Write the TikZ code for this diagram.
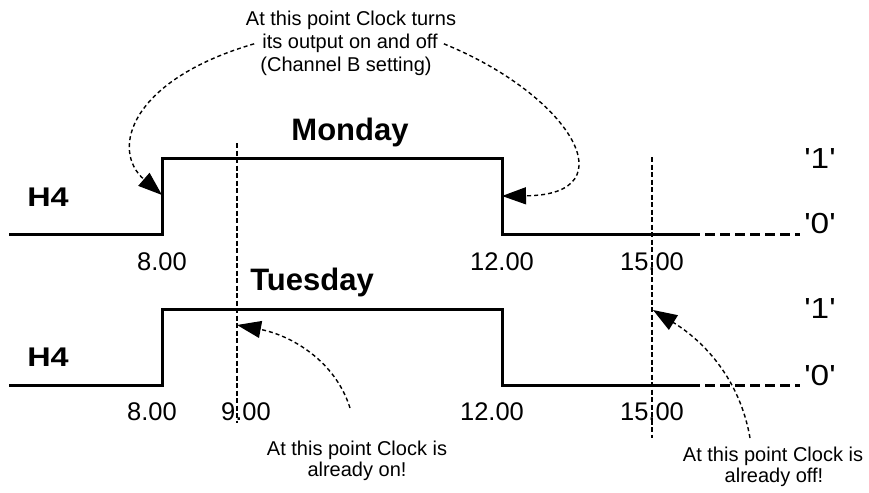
\documentclass[tikz,border=0pt]{standalone}
\usepackage{fontspec}
\usepackage{graphicx}
\setmainfont{Liberation Sans}
\usetikzlibrary{arrows.meta}
\newcommand\qq[1]{\textquotesingle{}#1\textquotesingle{}}
\tikzset{
  wave/.style={line width=3pt, line join=miter, line cap=butt},
  ext/.style={line width=3pt, dash pattern=on 10pt off 5pt},
  vmark/.style={line width=1.4pt, dash pattern=on 5pt off 2.5pt},
  callout/.style={line width=1.4pt, dash pattern=on 4pt off 3pt,
    -{Triangle[length=24pt,width=17pt]}},
  lbl/.style={inner sep=0pt, anchor=base},
  annot/.style={lbl, font=\fontsize{20}{23}\selectfont},
  timel/.style={lbl, font=\fontsize{25.5}{30}\selectfont},
  dayl/.style={lbl, font=\bfseries\fontsize{31}{36}\selectfont},
  hl/.style={lbl, font=\bfseries\fontsize{27}{32}\selectfont},
  levl/.style={lbl, font=\fontsize{29}{34}\selectfont},
}
\begin{document}
\begin{tikzpicture}[x=1pt,y=-1pt]
\useasboundingbox (0,0) rectangle (869,492);

% vertical markers
\coordinate (v9a) at (237,143);
\coordinate (v9b) at (237,423);
\coordinate (v15a) at (652,157);
\coordinate (v15b) at (652,438);
\draw[vmark] (v9a) -- (v9b);
\draw[vmark] (v15a) -- (v15b);

% Monday waveform
\draw[wave] (9,234) -| (162,158) -| (502,234) -- (690,234);
\draw[ext] (690,234) -- (800,234);
% Tuesday waveform
\draw[wave] (9,385) -| (162,309) -| (502,385) -- (690,385);
\draw[ext] (690,385) -- (800,385);

% labels
\node[hl] (h4a) at (48,206) {\scalebox{1.2}[1]{H4}};
\node[hl] (h4b) at (48,366) {\scalebox{1.2}[1]{H4}};
\node[dayl] (mon) at (350,140) {Monday};
\node[dayl] (tue) at (312,290) {Tuesday};

\node[levl] (m1) at (820,168) {\scalebox{1.15}[1]{\qq{1}}};
\node[levl] (m0) at (820,233) {\scalebox{1.15}[1]{\qq{0}}};
\node[levl] (u1) at (820,318) {\scalebox{1.15}[1]{\qq{1}}};
\node[levl] (u0) at (820,385) {\scalebox{1.15}[1]{\qq{0}}};

\node[timel] (ma) at (162,270) {8.00};
\node[timel] (mb) at (502,270) {12.00};
\node[timel] (mc) at (652,270) {15.00};
\node[timel] (ua) at (152,420) {8.00};
\node[timel] (ub) at (246,420) {9.00};
\node[timel] (uc) at (492,420) {12.00};
\node[timel] (ud) at (652,420) {15.00};

% annotations
\node[annot] (t1) at (351,26) {At this point Clock turns};
\node[annot] (t2) at (350,49) {its output on and off};
\node[annot] (t3) at (346,72) {(Channel B setting)};
\node[annot] (on1) at (357,455) {At this point Clock is};
\node[annot] (on2) at (357,476) {already on!};
\node[annot] (off1) at (773,461) {At this point Clock is};
\node[annot] (off2) at (774,482) {already off!};

% arrow targets and free starts
\coordinate (m8) at (162,195);
\coordinate (m12) at (502,196);
\coordinate (t9) at (237,325);
\coordinate (t15) at (653,310);
\coordinate (s3) at (350,408);
\coordinate (s4) at (750,438);

\draw[callout] ([xshift=-8pt]t2.west) .. controls (130,80) and (110,150) .. (m8);
\draw[callout] ([xshift=6pt]t2.east) .. controls (570,95) and (630,195) .. (m12);
\draw[callout] (s3) .. controls (335,360) and (290,335) .. (t9);
\draw[callout] (s4) .. controls (740,380) and (705,342) .. (t15);
\end{tikzpicture}
\end{document}
